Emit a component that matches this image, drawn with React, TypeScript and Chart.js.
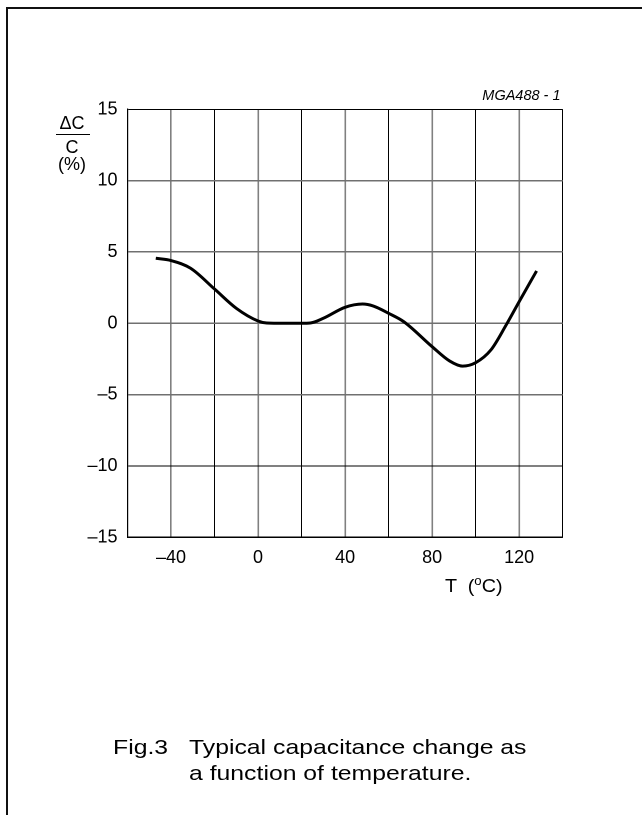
import { useEffect, useRef } from 'react';
import { Chart, registerables } from 'chart.js';

Chart.register(...registerables);

// temperature (deg C) and capacitance change (%)
const temps = [-47, -40, -31, -20, -10, 0, 4, 12, 20, 24, 30, 40, 48, 53, 60, 67, 80, 88, 94, 100, 107, 114, 120, 128];
const change = [4.56, 4.4, 3.86, 2.4, 1.05, 0.16, 0.02, 0, 0, 0.02, 0.35, 1.12, 1.35, 1.21, 0.7, 0.11, -1.64, -2.64, -3.0, -2.76, -1.87, -0.12, 1.52, 3.67];

const xLabels = [-40, 0, 40, 80, 120];
const yTicks = [15, 10, 5, 0, -5, -10, -15];

const FONT = '"Liberation Sans", Arial, Helvetica, sans-serif';
const W = 642;
const H = 815;

const fmt = (v: number) => (v < 0 ? '\u2013' + Math.abs(v) : String(v));

export default function App() {
  const canvasRef = useRef<HTMLCanvasElement>(null);
  const chartRef = useRef<Chart | null>(null);

  useEffect(() => {
    if (!canvasRef.current) return;
    const ctx = canvasRef.current.getContext('2d');
    if (!ctx) return;

    chartRef.current = new Chart(ctx, {
      type: 'line',
      data: {
        datasets: [
          {
            data: temps.map((t, i) => ({ x: t, y: change[i] })),
            borderColor: '#000',
            borderWidth: 3,
            pointRadius: 0,
            cubicInterpolationMode: 'monotone',
            fill: false,
          },
        ],
      },
      options: {
        responsive: false,
        animation: false,
        devicePixelRatio: 2,
        layout: { padding: { left: 77.5, right: 79.3, top: 109.3, bottom: 237.7 } },
        plugins: { legend: { display: false }, tooltip: { enabled: false } },
        scales: {
          x: {
            type: 'linear',
            min: -60,
            max: 140,
            afterFit: (s: any) => {
              s.height = 40;
            },
            ticks: {
              stepSize: 20,
              autoSkip: false,
              maxRotation: 0,
              padding: 10,
              color: '#000',
              font: { family: FONT, size: 18 },
              callback: (v: any) => (xLabels.includes(Number(v)) ? fmt(Number(v)) : ''),
            },
            grid: {
              drawTicks: false,
              color: (c: any) => (xLabels.includes(c.tick?.value) ? '#808080' : '#000'),
              lineWidth: (c: any) => (xLabels.includes(c.tick?.value) ? 1.6 : 1),
            },
            border: { display: true, color: '#000', width: 1.2 },
          },
          y: {
            type: 'linear',
            min: -15,
            max: 15,
            afterFit: (s: any) => {
              s.width = 50;
            },
            afterBuildTicks: (s: any) => {
              s.ticks = yTicks.map((v) => ({ value: v }));
            },
            ticks: {
              padding: 10,
              color: '#000',
              font: { family: FONT, size: 18 },
              callback: (v: any) => fmt(Number(v)),
            },
            grid: {
              drawTicks: false,
              color: (c: any) => ([10, 5, 0, -5].includes(c.tick?.value) ? '#707070' : '#000'),
              lineWidth: (c: any) => ([10, 5, 0, -5].includes(c.tick?.value) ? 1.5 : 1),
            },
            border: { display: true, color: '#000', width: 1.2 },
          },
        },
      },
    });

    return () => {
      chartRef.current?.destroy();
      chartRef.current = null;
    };
  }, []);

  const text = (extra: React.CSSProperties): React.CSSProperties => ({
    position: 'absolute',
    fontFamily: FONT,
    lineHeight: 1,
    whiteSpace: 'pre',
    color: '#000',
    transformOrigin: '0 0',
    ...extra,
  });

  return (
    <div style={{ position: 'absolute', left: 0, top: 0, width: W, height: H, background: '#fff', overflow: 'hidden' }}>
      <canvas ref={canvasRef} width={W} height={H} style={{ position: 'absolute', left: 0, top: 0, display: 'block' }} />

      {/* frame */}
      <div style={{ position: 'absolute', left: 6, top: 6.5, width: W - 6, height: 2, background: '#111' }} />
      <div style={{ position: 'absolute', left: 6, top: 6.5, width: 2, height: H, background: '#111' }} />

      <div style={text({ right: 81.5, top: 88.4, fontSize: 14.5, fontStyle: 'italic' })}>MGA488 - 1</div>

      {/* y axis title */}
      <div style={text({ left: 59.5, top: 113.8, fontSize: 18 })}>{'\u0394C'}</div>
      <div style={{ position: 'absolute', left: 56, top: 133.5, width: 34, height: 1.5, background: '#000' }} />
      <div style={text({ left: 65.5, top: 137.8, fontSize: 18 })}>C</div>
      <div style={text({ left: 58, top: 154.8, fontSize: 18 })}>(%)</div>

      {/* x axis title */}
      <div style={text({ left: 445, top: 576.5, fontSize: 18, transform: 'scaleX(1.1)' })}>
        {'T  ('}
        <span style={{ fontSize: 12, position: 'relative', top: -7 }}>o</span>
        {'C)'}
      </div>

      {/* caption */}
      <div style={text({ left: 113, top: 736.2, fontSize: 21, transform: 'scaleX(1.18)' })}>Fig.3</div>
      <div style={text({ left: 189, top: 736.2, fontSize: 21, transform: 'scaleX(1.18)' })}>
        Typical capacitance change as
      </div>
      <div style={text({ left: 189, top: 762.2, fontSize: 21, transform: 'scaleX(1.18)' })}>
        a function of temperature.
      </div>
    </div>
  );
}
